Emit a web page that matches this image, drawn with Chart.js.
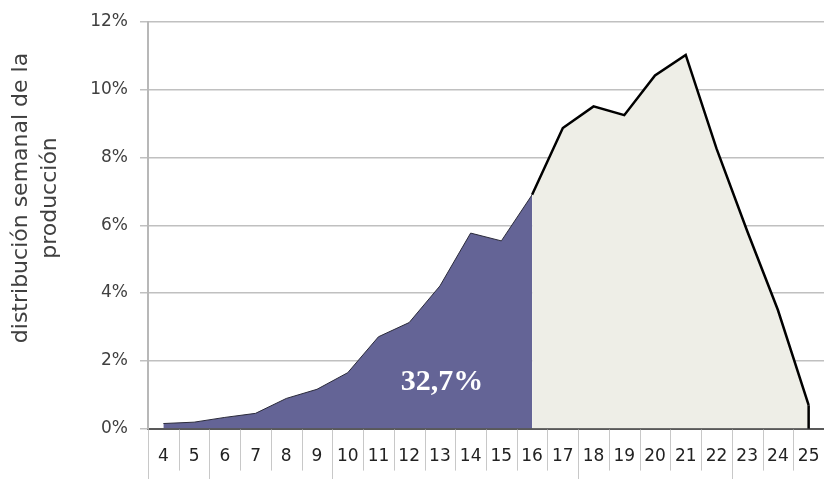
<!DOCTYPE html>
<html>
<head>
<meta charset="utf-8">
<script src="https://cdn.jsdelivr.net/npm/chart.js@4"></script>
<style>
  html, body { margin: 0; padding: 0; background: #fff; overflow: hidden; }
  canvas { display: block; }
</style>
</head>
<body>
<canvas id="prodChart" width="824" height="479"></canvas>
<script>
// semanas y distribución semanal (%)
const semanas = ["4","5","6","7","8","9","10","11","12","13","14","15","16","17","18","19","20","21","22","23","24","25"];
const distribucion = [0.15, 0.19, 0.33, 0.45, 0.89, 1.16, 1.65, 2.71, 3.13, 4.21, 5.77, 5.54, 6.90,
                      8.87, 9.51, 9.25, 10.42, 11.03, 8.27, 5.83, 3.50, 0.69];
const semanaCorte = "16";
const acumuladoTexto = "32,7%";
const yTicks = [0, 2, 4, 6, 8, 10, 12];
const tituloEje = ["distribución semanal de la", "producción"];
// bordes de categoría donde la separación baja hasta el final (cambio de mes)
const separadoresLargos = ["4", "6", "10", "18", "23"];

const corte = semanas.indexOf(semanaCorte);
const antes = distribucion.map((v, i) => i <= corte ? v : null);
const despues = distribucion.map((v, i) => i >= corte ? v : null);

const textColor = "#404040";

const extras = {
    id: "extras",
    afterDatasetsDraw(chart) {
        const ctx = chart.ctx;
        const x = chart.scales.x, y = chart.scales.y;

        // borde vertical al final del área
        const last = distribucion.length - 1;
        ctx.save();
        ctx.strokeStyle = "#000";
        ctx.lineWidth = 2.5;
        ctx.beginPath();
        ctx.moveTo(x.getPixelForValue(last), y.getPixelForValue(distribucion[last]));
        ctx.lineTo(x.getPixelForValue(last), y.getPixelForValue(0));
        ctx.stroke();

        // texto acumulado
        ctx.fillStyle = "#fff";
        ctx.font = "bold 30px 'Liberation Serif', serif";
        ctx.textAlign = "center";
        ctx.textBaseline = "middle";
        ctx.fillText(acumuladoTexto, x.getPixelForValue(semanas.indexOf("13")) + 2, y.getPixelForValue(1.38));
        ctx.restore();
    },
    afterDraw(chart) {
        const ctx = chart.ctx;
        const x = chart.scales.x, y = chart.scales.y;
        const step = x.getPixelForValue(1) - x.getPixelForValue(0);

        // separadores de categoría bajo el eje
        ctx.save();
        ctx.strokeStyle = "#c8c8c8";
        ctx.lineWidth = 1;
        for (let i = 0; i <= semanas.length; i++) {
            const px = Math.round(x.getPixelForValue(0) - step / 2 + i * step) + 0.5;
            const largo = separadoresLargos.includes(semanas[i]);
            ctx.beginPath();
            ctx.moveTo(px, y.bottom + 1);
            ctx.lineTo(px, largo ? chart.height : y.bottom + 42);
            ctx.stroke();
        }

        // título del eje
        ctx.fillStyle = textColor;
        ctx.font = "22px 'DejaVu Sans', sans-serif";
        ctx.textAlign = "center";
        ctx.textBaseline = "middle";
        const cy = 198;
        [21, 50].forEach((cx, i) => {
            ctx.save();
            ctx.translate(cx, cy);
            ctx.rotate(-Math.PI / 2);
            ctx.fillText(tituloEje[i], 0, 0);
            ctx.restore();
        });
        ctx.restore();
    }
};

function drawChart() {
    const ctx = document.getElementById("prodChart").getContext("2d");
    new Chart(ctx, {
        type: "line",
        data: {
            labels: semanas,
            datasets: [
                {
                    data: despues,
                    fill: "origin",
                    backgroundColor: "#eeeee7",
                    borderColor: "#000",
                    borderWidth: 2.5,
                    pointRadius: 0,
                    tension: 0,
                    spanGaps: false
                },
                {
                    data: antes,
                    fill: "origin",
                    backgroundColor: "#646496",
                    borderColor: "#2a2a3a",
                    borderWidth: 1,
                    pointRadius: 0,
                    tension: 0,
                    spanGaps: false
                }
            ]
        },
        options: {
            responsive: false,
            animation: false,
            layout: { padding: { top: 22, right: 0, bottom: 12, left: 0 } },
            plugins: {
                legend: { display: false },
                tooltip: { enabled: false }
            },
            scales: {
                x: {
                    offset: true,
                    afterFit: scale => {
                        scale.paddingLeft = 0;
                        scale.paddingRight = 0;
                        scale.height = scale.height - scale.options.ticks.padding;
                    },
                    grid: {
                        display: true,
                        drawOnChartArea: false,
                        drawTicks: false
                    },
                    border: { color: "#595959", width: 2 },
                    ticks: {
                        color: "#222",
                        font: { family: "'DejaVu Sans', sans-serif", size: 17 },
                        padding: 18,
                        maxRotation: 0,
                        autoSkip: false
                    }
                },
                y: {
                    min: 0,
                    max: 12,
                    afterBuildTicks: scale => { scale.ticks = yTicks.map(v => ({ value: v })); },
                    afterFit: scale => {
                        scale.width = 148;
                        scale.paddingTop = 0;
                        scale.paddingBottom = 0;
                    },
                    grid: {
                        color: "#c0c0c0",
                        lineWidth: 1.5,
                        tickLength: 8
                    },
                    border: { color: "#b8b8b8", width: 2 },
                    ticks: {
                        color: textColor,
                        font: { family: "'DejaVu Sans', sans-serif", size: 17 },
                        padding: 12,
                        callback: v => v + "%"
                    }
                }
            }
        },
        plugins: [extras]
    });
}

document.addEventListener("DOMContentLoaded", drawChart);
</script>
</body>
</html>
